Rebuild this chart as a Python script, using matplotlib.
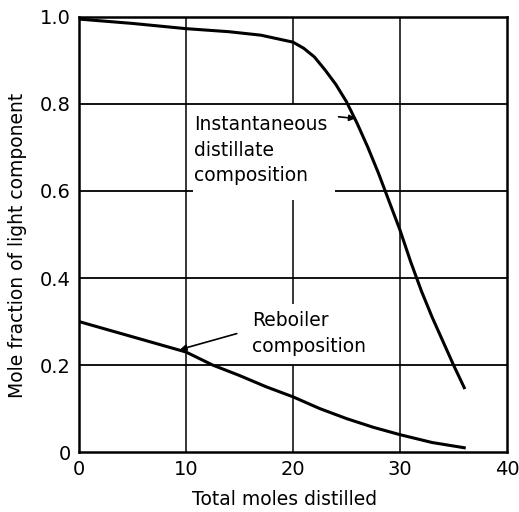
import matplotlib.pyplot as plt

plt.rcParams['font.family'] = ['DejaVu Sans']

# values
moles_dist = [0, 5, 10, 14, 17, 20, 21, 22, 23, 24, 25, 26, 27, 28, 29, 30, 31,
              32, 33, 34, 35, 36]
x_distillate = [0.995, 0.985, 0.973, 0.966, 0.958, 0.942, 0.928, 0.908, 0.878, 0.845, 0.805,
                0.755, 0.70, 0.64, 0.575, 0.51, 0.437, 0.37, 0.31, 0.255, 0.20, 0.148]
moles_reb = [0, 5, 10, 12.5, 15, 17.5, 20, 22.5, 25, 27.5, 30, 33, 36]
x_reboiler = [0.30, 0.265, 0.23, 0.20, 0.176, 0.15, 0.127, 0.10, 0.077, 0.057, 0.04, 0.022, 0.01]

xticks = [0, 10, 20, 30, 40]
yticks = [0, 0.2, 0.4, 0.6, 0.8, 1.0]
ytick_labels = ['0', '0.2', '0.4', '0.6', '0.8', '1.0']

fig = plt.figure(figsize=(5.19, 5.12), dpi=100)
ax = fig.add_axes([0.152, 0.117, 0.825, 0.85])

# grid lines, broken where the labels sit
ax.hlines([0.2, 0.4, 0.8], 0, 40, color='black', lw=1.3)
ax.hlines(0.6, 0, 10.7, color='black', lw=1.3)
ax.hlines(0.6, 23.9, 40, color='black', lw=1.3)
ax.vlines([10, 30], 0, 1, color='black', lw=1.1)
ax.vlines(20, 0.8, 1.0, color='black', lw=1.1)
ax.vlines(20, 0.34, 0.58, color='black', lw=1.1)
ax.vlines(20, 0, 0.2, color='black', lw=1.1)

ax.plot(moles_dist, x_distillate, color='black', lw=2.2)
ax.plot(moles_reb, x_reboiler, color='black', lw=2.2)

ax.annotate('', xy=(26.1, 0.766), xytext=(24.0, 0.771),
            arrowprops=dict(arrowstyle='-|>', color='black', lw=1.2, mutation_scale=9))
ax.text(10.8, 0.694, 'Instantaneous\ndistillate\ncomposition', fontsize=13.5,
        va='center', ha='left', linespacing=1.45)

ax.annotate('', xy=(9.2, 0.234), xytext=(15.0, 0.274),
            arrowprops=dict(arrowstyle='-|>', color='black', lw=1.2, mutation_scale=9))
ax.text(16.2, 0.272, 'Reboiler\ncomposition', fontsize=13.5,
        va='center', ha='left', linespacing=1.45)

ax.set_xlim(0, 40)
ax.set_ylim(0, 1.0)
ax.set_xticks(xticks)
ax.set_yticks(yticks)
ax.set_yticklabels(ytick_labels)
ax.tick_params(length=0, labelsize=14, pad=6)
for s in ax.spines.values():
    s.set_linewidth(1.8)

ax.set_xlabel('Total moles distilled', fontsize=13.5)
ax.set_ylabel('Mole fraction of light component', fontsize=13.5)
ax.xaxis.set_label_coords(0.481, -0.088)
ax.yaxis.set_label_coords(-0.121, 0.476)

plt.savefig('out.png', dpi=100)
